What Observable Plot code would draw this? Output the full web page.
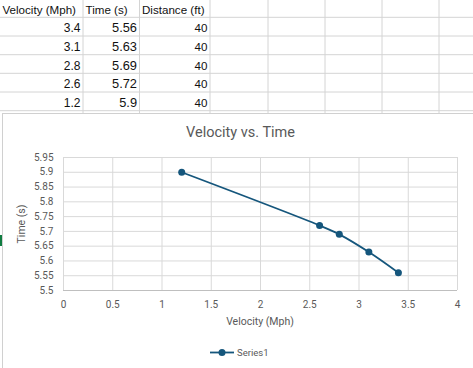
<!DOCTYPE html>
<html>
<head>
<meta charset="utf-8">
<script src="https://cdn.jsdelivr.net/npm/d3@7"></script>
<script src="https://cdn.jsdelivr.net/npm/@observablehq/plot@0.6"></script>
<style>
  html, body { margin: 0; padding: 0; background: #fff; }
  #page { position: relative; width: 473px; height: 368px; overflow: hidden; background: #fff; }
  #sheet { position: absolute; left: 0; top: 0; }
  #chartbox { position: absolute; left: 2px; top: 113px; width: 471px; height: 255px; background: #fff;
              border-left: 1px solid #d0d0d0; border-top: 1px solid #d0d0d0; box-sizing: border-box; }
  .lbl { position: absolute; font-family: Roboto, sans-serif; color: #595959; white-space: nowrap; }
  #plot { position: absolute; left: 0; top: 140px; }
</style>
</head>
<body>
<div id="page">
  <div id="sheet"></div>
  <div id="chartbox"></div>
  <div style="position:absolute;left:0;top:235px;width:2px;height:11px;background:#107c41"></div>
  <div id="title" class="lbl"></div>
  <div id="plot"></div>
  <div id="xlabel" class="lbl"></div>
  <div id="ylabel" class="lbl"></div>
  <div id="legend" class="lbl"></div>
</div>
<script>
// ---- data ----
const headers = ["Velocity (Mph)", "Time (s)", "Distance (ft)"];
const velocity = [3.4, 3.1, 2.8, 2.6, 1.2];
const time = [5.56, 5.63, 5.69, 5.72, 5.9];
const distance = [40, 40, 40, 40, 40];
const velocityLabels = ["3.4", "3.1", "2.8", "2.6", "1.2"];
const timeLabels = ["5.56", "5.63", "5.69", "5.72", "5.9"];
const xTicks = [0, 0.5, 1, 1.5, 2, 2.5, 3, 3.5, 4];
const yTicks = [5.5, 5.55, 5.6, 5.65, 5.7, 5.75, 5.8, 5.85, 5.9, 5.95];
const chartTitle = "Velocity vs. Time";
const xTitle = "Velocity (Mph)";
const yTitle = "Time (s)";
const seriesName = "Series1";

const lineColor = "#15567c";
const gridColor = "#d9d9d9";

// ---- spreadsheet ----
const colX = [0, 83, 139.5, 210, 268, 325, 382, 439, 473];
const rowY = [0, 17.3, 36, 54.7, 73.3, 92, 110.7];
const sheet = d3.select("#sheet").append("svg").attr("width", 473).attr("height", 113);
colX.slice(1, -1).forEach(x => sheet.append("line").attr("x1", x).attr("x2", x).attr("y1", 0).attr("y2", 113)
  .attr("stroke", "#d4d4d4").attr("stroke-width", 1));
rowY.slice(1).forEach(y => sheet.append("line").attr("x1", 0).attr("x2", 473).attr("y1", y).attr("y2", y)
  .attr("stroke", "#d4d4d4").attr("stroke-width", 1));
const cellFont = "'Liberation Sans', Arial, sans-serif";
headers.forEach((h, i) => sheet.append("text").attr("x", colX[i] + 2.5).attr("y", 13.5)
  .attr("font-family", cellFont).attr("font-size", 11.6).attr("fill", "#111").text(h));
const cols = [velocityLabels, timeLabels, distance.map(String)];
const sizes = [12, 12.8, 11.6];
cols.forEach((c, ci) => c.forEach((v, ri) => sheet.append("text")
  .attr("x", colX[ci + 1] - 2.5).attr("y", rowY[ri + 2] - 3.8).attr("text-anchor", "end")
  .attr("font-family", cellFont).attr("font-size", sizes[ci]).attr("fill", "#111").text(v)));

// ---- chart ----
const data = velocity.map((v, i) => ({v, t: time[i]}));
const fmt = d => String(+d.toFixed(2));
const chart = Plot.plot({
  width: 473, height: 200,
  marginTop: 17, marginBottom: 50, marginLeft: 63, marginRight: 16,
  style: {fontFamily: "Roboto, sans-serif", fontSize: "10px", color: "#595959", background: "transparent", overflow: "visible"},
  x: {domain: [0, 4]},
  y: {domain: [5.5, 5.95]},
  marks: [
    Plot.gridX(xTicks, {stroke: gridColor, strokeOpacity: 1, strokeWidth: 1}),
    Plot.gridY(yTicks, {stroke: gridColor, strokeOpacity: 1, strokeWidth: 1}),
    Plot.ruleY([5.5], {stroke: "#bfbfbf", strokeWidth: 1}),
    Plot.axisX(xTicks, {tickSize: 0, tickPadding: 10, tickFormat: fmt, label: null, fill: "#595959"}),
    Plot.axisY(yTicks, {tickSize: 0, tickPadding: 10, tickFormat: fmt, label: null, fill: "#595959"}),
    Plot.line(data, {x: "v", y: "t", curve: "catmull-rom", stroke: lineColor, strokeWidth: 1.8}),
    Plot.dot(data, {x: "v", y: "t", r: 3.5, fill: lineColor, stroke: lineColor, strokeWidth: 0})
  ]
});
document.getElementById("plot").appendChild(chart);

// ---- labels ----
const title = document.getElementById("title");
title.textContent = chartTitle;
title.style.fontSize = "14.5px";
title.style.left = "0px"; title.style.width = "473px"; title.style.textAlign = "center";
title.style.top = "124px"; title.style.paddingLeft = "4px";

const xl = document.getElementById("xlabel");
xl.textContent = xTitle;
xl.style.fontSize = "10.5px";
xl.style.left = "63px"; xl.style.width = "394px"; xl.style.textAlign = "center"; xl.style.top = "315px";

const yl = document.getElementById("ylabel");
yl.textContent = yTitle;
yl.style.fontSize = "10.5px";
yl.style.left = "21px"; yl.style.top = "223.5px";
yl.style.transform = "translate(-50%, -50%) rotate(-90deg)";

// legend
const lg = document.getElementById("legend");
lg.style.left = "209px"; lg.style.top = "345px"; lg.style.fontSize = "9.5px";
lg.innerHTML = `<svg width="26" height="14" style="vertical-align:middle"><line x1="1" x2="25" y1="7.5" y2="7.5" stroke="${lineColor}" stroke-width="1.8"/><circle cx="13" cy="7.5" r="3.5" fill="${lineColor}"/></svg><span style="vertical-align:middle;margin-left:2px">${seriesName}</span>`;
</script>
</body>
</html>
